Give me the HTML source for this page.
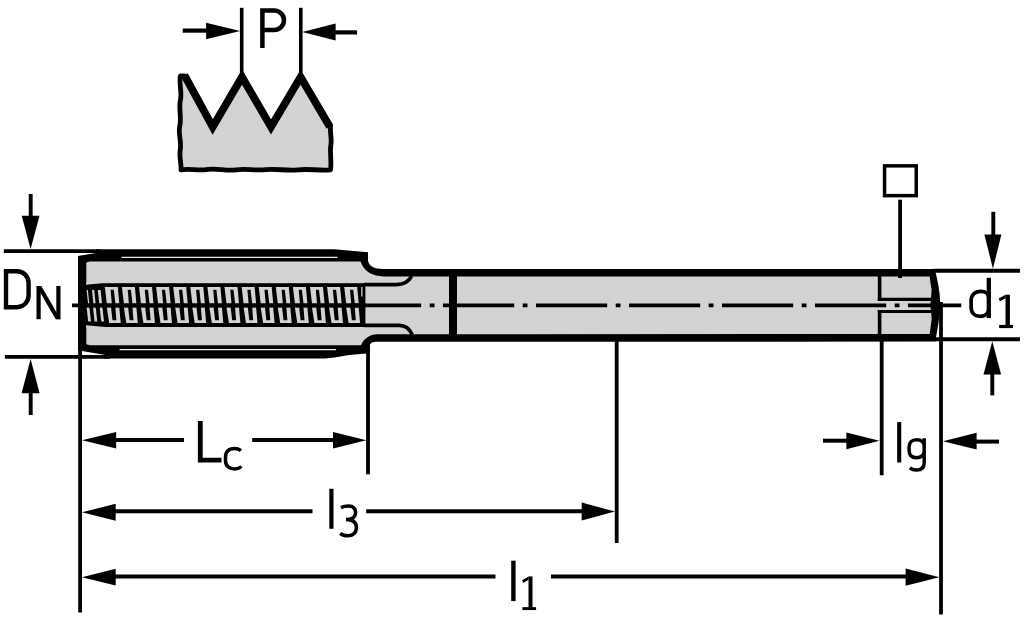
<!DOCTYPE html>
<html><head><meta charset="utf-8"><title>Tap dimension drawing</title>
<style>
html,body{margin:0;padding:0;background:#fff;}
body{width:1024px;height:624px;overflow:hidden;font-family:"Liberation Sans",sans-serif;}
svg{display:block;}
</style></head>
<body>
<svg width="1024" height="624" viewBox="0 0 1024 624">
<rect width="1024" height="624" fill="#fff"/>
<!-- thread profile -->
<path d="M180.4,76 C178.8,84 182.2,92 180.4,100 C178.4,109 182,118 179.6,127 C178.2,135 181.8,142 180.2,150 C179,158 181.6,164 181,169.8 C190,168.2 198,171.2 208,169.4 C218,168 226,171.4 236,169.8 C246,168.2 256,171 266,169.6 C276,168.4 288,171.2 298,169.8 C308,168.6 320,170.8 330.6,169.8 C331.8,160 329.4,152 331,144 C331.8,138 329.8,132 330.6,126 L300.6,77 L271,127 L242,77 L212.7,127 L184.2,76 Z" fill="#d3d3d3" stroke="#000" stroke-width="4.8" stroke-linejoin="round"/>
<path d="M184.4,75.2 L212.7,126.9 L242,77 L271,126.9 L300.6,77 L329.8,126.8" fill="none" stroke="#000" stroke-width="7.7" stroke-linejoin="miter" stroke-miterlimit="10"/>
<line x1="241.7" y1="7.8" x2="241.7" y2="74" stroke="#000" stroke-width="3.6" />
<line x1="300.8" y1="7.8" x2="300.8" y2="74" stroke="#000" stroke-width="3.6" />
<line x1="182.7" y1="30.6" x2="208" y2="30.6" stroke="#000" stroke-width="4.2" />
<polygon points="240.20,31.00 206.10,22.70 206.10,39.30" fill="#000" />
<line x1="334" y1="32.4" x2="357.1" y2="32.4" stroke="#000" stroke-width="4.2" />
<polygon points="302.40,32.00 335.60,23.50 335.60,40.50" fill="#000" />
<!-- body -->
<path d="M78,256 L96,252.9 L96,249.3 L334,249.3 L368,252.2 L368,260.5 C368.6,265.5 374,269 383,269 L934.8,269 C937.6,280 940,292 940.3,303 C940,316 937.8,328 935.2,341.6 L376,341.7 C371.5,341.9 369.8,343.4 369.8,346.5 L369.8,353.3 L366,353.5 L349.3,355.1 L334.6,357.4 L325,358.4 L104,358.4 L104,354.8 L82,351 L78,351 Z" fill="#000" stroke="none" stroke-width="0" />
<path d="M86.3,262.6 L90,261.6 L360.5,261.6 C362.5,267 366,273 376,275.5 L383,276.6 L929.6,276.6 L931.6,290 L930.4,305 L931.7,319.2 L929.6,333.9 L377,334.2 C370,334.6 364,338 361,345.2 L90,345.2 L86.3,344.2 Z" fill="#d3d3d3" stroke="none" stroke-width="0" />
<line x1="121.5" y1="257.3" x2="337.6" y2="257.3" stroke="#000" stroke-width="1.3" style="stroke:#e8e8e8"/>
<line x1="119.6" y1="349.6" x2="336" y2="349.6" stroke="#000" stroke-width="1.3" style="stroke:#e8e8e8"/>
<rect x="449" y="276" width="8" height="59" fill="#000"/>
<path d="M364,284.6 H396.5 C403.5,284.6 408.6,282 411.6,276.2" fill="none" stroke="#000" stroke-width="3.6" />
<path d="M364,325.4 H399.5 C405,325.4 409.6,329 412.2,334.6" fill="none" stroke="#000" stroke-width="3.6" />
<rect x="86" y="283.2" width="279.4" height="43.8" fill="#000" id="tb"/>
<polygon points="104.80,287.00 117.80,287.00 119.30,303.50 115.40,303.50 113.80,289.80 110.60,289.80 111.80,303.50 106.80,303.50" fill="#d3d3d3" />
<polygon points="106.80,307.60 111.00,307.60 112.50,320.20 116.40,320.20 115.40,307.60 119.30,307.60 120.70,322.90 109.20,322.90" fill="#d3d3d3" />
<polygon points="121.90,287.00 134.90,287.00 136.40,303.50 132.50,303.50 130.90,289.80 127.70,289.80 128.90,303.50 123.90,303.50" fill="#d3d3d3" />
<polygon points="123.90,307.60 128.10,307.60 129.60,320.20 133.50,320.20 132.50,307.60 136.40,307.60 137.80,322.90 126.30,322.90" fill="#d3d3d3" />
<polygon points="139.00,287.00 152.00,287.00 153.50,303.50 149.60,303.50 148.00,289.80 144.80,289.80 146.00,303.50 141.00,303.50" fill="#d3d3d3" />
<polygon points="141.00,307.60 145.20,307.60 146.70,320.20 150.60,320.20 149.60,307.60 153.50,307.60 154.90,322.90 143.40,322.90" fill="#d3d3d3" />
<polygon points="156.10,287.00 169.10,287.00 170.60,303.50 166.70,303.50 165.10,289.80 161.90,289.80 163.10,303.50 158.10,303.50" fill="#d3d3d3" />
<polygon points="158.10,307.60 162.30,307.60 163.80,320.20 167.70,320.20 166.70,307.60 170.60,307.60 172.00,322.90 160.50,322.90" fill="#d3d3d3" />
<polygon points="173.20,287.00 186.20,287.00 187.70,303.50 183.80,303.50 182.20,289.80 179.00,289.80 180.20,303.50 175.20,303.50" fill="#d3d3d3" />
<polygon points="175.20,307.60 179.40,307.60 180.90,320.20 184.80,320.20 183.80,307.60 187.70,307.60 189.10,322.90 177.60,322.90" fill="#d3d3d3" />
<polygon points="190.30,287.00 203.30,287.00 204.80,303.50 200.90,303.50 199.30,289.80 196.10,289.80 197.30,303.50 192.30,303.50" fill="#d3d3d3" />
<polygon points="192.30,307.60 196.50,307.60 198.00,320.20 201.90,320.20 200.90,307.60 204.80,307.60 206.20,322.90 194.70,322.90" fill="#d3d3d3" />
<polygon points="207.40,287.00 220.40,287.00 221.90,303.50 218.00,303.50 216.40,289.80 213.20,289.80 214.40,303.50 209.40,303.50" fill="#d3d3d3" />
<polygon points="209.40,307.60 213.60,307.60 215.10,320.20 219.00,320.20 218.00,307.60 221.90,307.60 223.30,322.90 211.80,322.90" fill="#d3d3d3" />
<polygon points="224.50,287.00 237.50,287.00 239.00,303.50 235.10,303.50 233.50,289.80 230.30,289.80 231.50,303.50 226.50,303.50" fill="#d3d3d3" />
<polygon points="226.50,307.60 230.70,307.60 232.20,320.20 236.10,320.20 235.10,307.60 239.00,307.60 240.40,322.90 228.90,322.90" fill="#d3d3d3" />
<polygon points="241.60,287.00 254.60,287.00 256.10,303.50 252.20,303.50 250.60,289.80 247.40,289.80 248.60,303.50 243.60,303.50" fill="#d3d3d3" />
<polygon points="243.60,307.60 247.80,307.60 249.30,320.20 253.20,320.20 252.20,307.60 256.10,307.60 257.50,322.90 246.00,322.90" fill="#d3d3d3" />
<polygon points="258.70,287.00 271.70,287.00 273.20,303.50 269.30,303.50 267.70,289.80 264.50,289.80 265.70,303.50 260.70,303.50" fill="#d3d3d3" />
<polygon points="260.70,307.60 264.90,307.60 266.40,320.20 270.30,320.20 269.30,307.60 273.20,307.60 274.60,322.90 263.10,322.90" fill="#d3d3d3" />
<polygon points="275.80,287.00 288.80,287.00 290.30,303.50 286.40,303.50 284.80,289.80 281.60,289.80 282.80,303.50 277.80,303.50" fill="#d3d3d3" />
<polygon points="277.80,307.60 282.00,307.60 283.50,320.20 287.40,320.20 286.40,307.60 290.30,307.60 291.70,322.90 280.20,322.90" fill="#d3d3d3" />
<polygon points="292.90,287.00 305.90,287.00 307.40,303.50 303.50,303.50 301.90,289.80 298.70,289.80 299.90,303.50 294.90,303.50" fill="#d3d3d3" />
<polygon points="294.90,307.60 299.10,307.60 300.60,320.20 304.50,320.20 303.50,307.60 307.40,307.60 308.80,322.90 297.30,322.90" fill="#d3d3d3" />
<polygon points="310.00,287.00 323.00,287.00 324.50,303.50 320.60,303.50 319.00,289.80 315.80,289.80 317.00,303.50 312.00,303.50" fill="#d3d3d3" />
<polygon points="312.00,307.60 316.20,307.60 317.70,320.20 321.60,320.20 320.60,307.60 324.50,307.60 325.90,322.90 314.40,322.90" fill="#d3d3d3" />
<polygon points="327.10,287.00 340.10,287.00 341.60,303.50 337.70,303.50 336.10,289.80 332.90,289.80 334.10,303.50 329.10,303.50" fill="#d3d3d3" />
<polygon points="329.10,307.60 333.30,307.60 334.80,320.20 338.70,320.20 337.70,307.60 341.60,307.60 343.00,322.90 331.50,322.90" fill="#d3d3d3" />
<polygon points="344.20,287.00 357.20,287.00 358.70,303.50 354.80,303.50 353.20,289.80 350.00,289.80 351.20,303.50 346.20,303.50" fill="#d3d3d3" />
<polygon points="346.20,307.60 350.40,307.60 351.90,320.20 355.80,320.20 354.80,307.60 358.70,307.60 360.10,322.90 348.60,322.90" fill="#d3d3d3" />
<polygon points="86.60,290.00 87.90,290.00 89.30,303.50 88.00,303.50" fill="#d3d3d3" />
<polygon points="92.00,290.00 94.20,290.00 95.60,303.50 93.40,303.50" fill="#d3d3d3" />
<polygon points="97.80,290.00 100.60,290.00 102.00,303.50 99.20,303.50" fill="#d3d3d3" />
<polygon points="86.60,307.60 89.40,307.60 91.00,321.50 88.20,321.50" fill="#d3d3d3" />
<polygon points="93.00,307.60 95.70,307.60 97.30,321.50 94.60,321.50" fill="#d3d3d3" />
<polygon points="99.70,307.60 102.40,307.60 104.00,321.50 101.30,321.50" fill="#d3d3d3" />
<polygon points="86.00,283.00 103.00,283.00 86.00,284.80" fill="#d3d3d3" />
<polygon points="86.00,327.20 108.00,327.20 86.00,325.20" fill="#d3d3d3" />
<polygon points="361.20,287.00 362.50,287.00 362.50,296.50 361.20,296.50" fill="#d3d3d3" />
<line x1="879.6" y1="276" x2="879.6" y2="301" stroke="#000" stroke-width="3.6" />
<line x1="879.6" y1="310" x2="879.6" y2="335" stroke="#000" stroke-width="3.6" />
<line x1="877.8" y1="299.4" x2="931" y2="299.4" stroke="#000" stroke-width="3.2" />
<line x1="877.8" y1="311.5" x2="931" y2="311.5" stroke="#000" stroke-width="3.2" />
<line x1="72" y1="305.4" x2="366" y2="305.4" stroke="#000" stroke-width="3.8" />
<line x1="350" y1="305.4" x2="961.3" y2="305.4" stroke="#000" stroke-width="3.9" stroke-dasharray="71.2 8.5 4.8 8.5"/>
<!-- extension / dimension lines -->
<line x1="80.1" y1="350" x2="80.1" y2="612.6" stroke="#000" stroke-width="3.8" />
<line x1="368" y1="346" x2="368" y2="474.3" stroke="#000" stroke-width="3.8" />
<line x1="616.7" y1="341" x2="616.7" y2="543" stroke="#000" stroke-width="3.8" />
<line x1="881.7" y1="341" x2="881.7" y2="475.2" stroke="#000" stroke-width="3.8" />
<line x1="941" y1="302" x2="941" y2="614.6" stroke="#000" stroke-width="3.8" />
<line x1="100" y1="440" x2="184" y2="440" stroke="#000" stroke-width="4" />
<line x1="252.2" y1="440" x2="350" y2="440" stroke="#000" stroke-width="4" />
<polygon points="82.00,440.20 116.20,432.00 116.20,448.40" fill="#000" />
<polygon points="366.40,440.20 333.00,432.00 333.00,448.40" fill="#000" />
<line x1="100" y1="511.2" x2="312.5" y2="511.2" stroke="#000" stroke-width="4" />
<line x1="366.2" y1="511.2" x2="600" y2="511.2" stroke="#000" stroke-width="4" />
<polygon points="82.00,512.30 115.70,503.80 115.70,520.80" fill="#000" />
<polygon points="615.00,511.60 581.70,502.60 581.70,520.60" fill="#000" />
<line x1="100" y1="576.4" x2="495.5" y2="576.4" stroke="#000" stroke-width="4" />
<line x1="551" y1="576.4" x2="920" y2="576.4" stroke="#000" stroke-width="4" />
<polygon points="82.00,577.20 115.70,568.80 115.70,585.60" fill="#000" />
<polygon points="939.40,577.20 905.60,568.60 905.60,585.80" fill="#000" />
<line x1="823" y1="440.7" x2="850" y2="440.7" stroke="#000" stroke-width="4" />
<polygon points="879.40,440.80 846.40,432.40 846.40,449.20" fill="#000" />
<line x1="972" y1="441.6" x2="999" y2="441.6" stroke="#000" stroke-width="4" />
<polygon points="943.00,441.20 976.60,432.80 976.60,449.60" fill="#000" />
<line x1="3.8" y1="251.1" x2="100" y2="251.1" stroke="#000" stroke-width="3.8" />
<line x1="30.7" y1="194" x2="30.7" y2="220" stroke="#000" stroke-width="3.9" />
<polygon points="30.60,249.00 21.70,215.80 39.50,215.80" fill="#000" />
<line x1="4.9" y1="356.9" x2="110" y2="356.9" stroke="#000" stroke-width="3.9" />
<line x1="30.7" y1="390" x2="30.7" y2="415" stroke="#000" stroke-width="3.9" />
<polygon points="30.60,359.00 21.60,393.20 39.60,393.20" fill="#000" />
<line x1="934" y1="270.8" x2="1020" y2="270.8" stroke="#000" stroke-width="3.9" />
<line x1="934" y1="339.2" x2="1020" y2="339.2" stroke="#000" stroke-width="3.9" />
<line x1="993.3" y1="211.8" x2="993.3" y2="238" stroke="#000" stroke-width="3.9" />
<polygon points="992.90,268.80 984.40,234.40 1001.40,234.40" fill="#000" />
<line x1="992.3" y1="371" x2="992.3" y2="395.4" stroke="#000" stroke-width="3.9" />
<polygon points="992.30,341.30 983.50,374.60 1001.10,374.60" fill="#000" />
<rect x="884.55" y="165.85" width="31.7" height="29.8" fill="none" stroke="#000" stroke-width="3.5"/>
<line x1="900.1" y1="199.7" x2="900.1" y2="278" stroke="#000" stroke-width="3.8" />
<!-- glyphs -->
<path d="M262.4,47.9 V10.4 H274 A10,9.8 0 0 1 274,30 H262.4" fill="none" stroke="#000" stroke-width="4.5" />
<path d="M6,307.2 V271.2 H17 A11.6,11.6 0 0 1 28.6,282.8 V295.6 A11.6,11.6 0 0 1 17,307.2 Z" fill="none" stroke="#000" stroke-width="4.4" />
<line x1="38.6" y1="286" x2="38.6" y2="319.2" stroke="#000" stroke-width="4.2" />
<line x1="58.4" y1="286" x2="58.4" y2="319.2" stroke="#000" stroke-width="4.2" />
<polygon points="36.50,286.00 41.30,286.00 60.50,319.20 55.70,319.20" fill="#000" />
<path d="M200.3,421 V460.1 H221.5" fill="none" stroke="#000" stroke-width="4.8" />
<path d="M241,450.6 C239,449.1 237,448.5 234.5,448.5 C228.6,448.5 225.5,451.8 225.5,457 V460.5 C225.5,465.6 228.6,468.9 234.5,468.9 C237.2,468.9 239.6,468.1 241.5,466.5" fill="none" stroke="#000" stroke-width="3.5" />
<line x1="331.4" y1="488.8" x2="331.4" y2="528.8" stroke="#000" stroke-width="4.2" />
<path d="M341,507.6 C343.5,506.4 346,506.1 348.5,506.1 C353.5,506.1 355.6,509 355.6,512.4 C355.6,516.6 352.4,519.4 346,519.6 C352.8,519.8 356.4,522.8 356.4,527.6 C356.4,532.6 353.4,535.8 348,535.8 C344.6,535.8 342,535 340.2,533.4" fill="none" stroke="#000" stroke-width="3.5" />
<line x1="513.4" y1="560.7" x2="513.4" y2="601.1" stroke="#000" stroke-width="4.4" />
<rect x="528.5" y="576.4" width="4" height="33" fill="#000"/>
<polygon points="528.60,576.40 522.10,580.20 523.30,582.90 528.60,579.80" fill="#000" />
<line x1="522.4" y1="608.6" x2="536.1" y2="608.6" stroke="#000" stroke-width="2.9" />
<line x1="899.2" y1="422.1" x2="899.2" y2="462.5" stroke="#000" stroke-width="4.1" />
<path d="M924.2,446.5 C924.2,442.2 921.2,439.8 916.8,439.8 C911.6,439.8 909.1,442.8 909.1,447 V450.5 C909.1,455 911.8,457.7 916.5,457.7 C921.2,457.7 924.2,455 924.2,450.8 M924.2,438.2 V462.5 C924.2,467.6 921.6,470 916.6,470 C913.8,470 911.6,469.3 909.8,467.8" fill="none" stroke="#000" stroke-width="3.5" />
<line x1="988.8" y1="277.8" x2="988.8" y2="318" stroke="#000" stroke-width="4.3" />
<path d="M988.8,298 C988.8,293.4 985,291.3 981,291.3 C974.4,291.3 971.1,295.4 971.1,301 V307 C971.1,312.8 974.4,316.3 980,316.3 C984.6,316.3 988.8,313.8 988.8,309" fill="none" stroke="#000" stroke-width="3.7" />
<rect x="1005.5" y="294.7" width="4.4" height="33" fill="#000"/>
<polygon points="1005.60,294.70 998.70,298.40 999.90,301.20 1005.60,298.20" fill="#000" />
<line x1="999.1" y1="326.5" x2="1013.1" y2="326.5" stroke="#000" stroke-width="3.2" />
</svg>
</body></html>
